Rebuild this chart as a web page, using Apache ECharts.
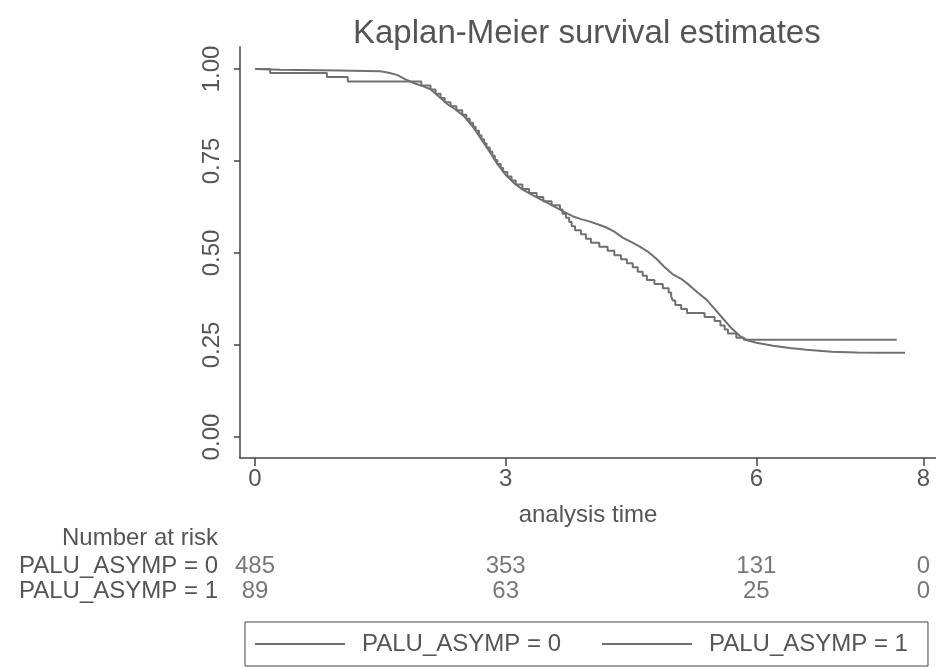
<!DOCTYPE html>
<html><head><meta charset="utf-8">
<script src="https://cdn.jsdelivr.net/npm/echarts@6/dist/echarts.min.js"></script>
<style>html,body{margin:0;padding:0;background:#fff}#c{width:936px;height:668px}</style>
</head><body><div id="c"></div>
<script>
// ---- data ----
const groupNames = ['PALU_ASYMP = 0', 'PALU_ASYMP = 1'];
// KM estimate, group 0 (time, survival)
const km0 = [
 [0,1.0],[0.3,0.998],[1.0,0.996],[1.5,0.994],[1.6,0.99],[1.7,0.984],[1.8,0.972],[1.9,0.962],
 [2.0,0.954],[2.1,0.945],[2.2,0.925],[2.3,0.905],[2.4,0.89],[2.5,0.872],[2.6,0.845],[2.7,0.812],
 [2.8,0.778],[2.9,0.742],[3.0,0.712],[3.1,0.69],[3.2,0.673],[3.3,0.66],[3.4,0.648],[3.5,0.636],
 [3.6,0.624],[3.7,0.612],[3.8,0.6],[3.9,0.592],[4.0,0.586],[4.1,0.578],[4.2,0.57],[4.3,0.558],
 [4.4,0.542],[4.5,0.53],[4.6,0.518],[4.7,0.504],[4.8,0.485],[4.9,0.462],[5.0,0.442],[5.1,0.43],
 [5.2,0.412],[5.3,0.392],[5.4,0.374],[5.5,0.348],[5.6,0.322],[5.7,0.296],[5.8,0.275],[5.9,0.262],
 [6.0,0.256],[6.2,0.248],[6.4,0.242],[6.6,0.237],[6.9,0.232],[7.2,0.23],[7.5,0.229],[7.78,0.229]
];
// KM estimate, group 1 (time, survival)
const km1 = [
 [0,1.0],[0.18,0.989],[0.86,0.978],[1.11,0.966],[1.99,0.955],[2.1,0.944],[2.16,0.933],[2.22,0.921],
 [2.27,0.91],[2.34,0.899],[2.41,0.888],[2.48,0.876],[2.53,0.865],[2.57,0.854],[2.61,0.843],[2.64,0.832],
 [2.68,0.82],[2.71,0.809],[2.74,0.798],[2.77,0.787],[2.81,0.776],[2.84,0.764],[2.87,0.753],[2.9,0.742],
 [2.94,0.731],[2.97,0.72],[3.02,0.708],[3.07,0.697],[3.12,0.686],[3.2,0.674],[3.28,0.663],[3.37,0.652],
 [3.45,0.641],[3.55,0.63],[3.65,0.618],[3.68,0.607],[3.72,0.596],[3.76,0.584],[3.79,0.573],[3.83,0.562],
 [3.9,0.551],[3.96,0.539],[4.02,0.528],[4.12,0.517],[4.22,0.506],[4.3,0.494],[4.38,0.483],[4.45,0.472],
 [4.52,0.461],[4.58,0.449],[4.64,0.438],[4.69,0.427],[4.78,0.416],[4.88,0.404],[4.95,0.393],[4.98,0.382],
 [5.0,0.371],[5.03,0.359],[5.1,0.348],[5.17,0.337],[5.38,0.326],[5.5,0.315],[5.57,0.303],[5.62,0.292],
 [5.66,0.281],[5.76,0.27],[5.85,0.264],[7.68,0.264]
];
const xTicks = [0, 3, 6, 8];
const yTicks = [0, 0.25, 0.5, 0.75, 1];
const riskTimes = [0, 3, 6, 8];
const risk0 = [485, 353, 131, 0];
const risk1 = [89, 63, 25, 0];

// ---- chart ----
const txt = '#555';
const lineCol = '#707070';
const font = 'Liberation Sans, Arial, sans-serif';
const chart = echarts.init(document.getElementById('c'), null, {renderer: 'canvas'});
const riskData = [];
riskTimes.forEach((t, i) => {
  riskData.push([t, groupNames[0], risk0[i]]);
  riskData.push([t, groupNames[1], risk1[i]]);
});
chart.setOption({
  animation: false,
  backgroundColor: '#fff',
  textStyle: {fontFamily: font},
  title: {
    text: 'Kaplan-Meier survival estimates',
    left: 348, top: 12,
    textStyle: {fontSize: 33, fontWeight: 'normal', color: txt, fontFamily: font}
  },
  graphic: [{
    type: 'text', right: 936 - 218, top: 526,
    style: {text: 'Number at risk', fontSize: 24, fill: txt, font: '24px ' + font, textAlign: 'right'}
  }],
  legend: {
    left: 245, top: 622,
    data: groupNames,
    icon: 'rect',
    itemWidth: 90, itemHeight: 2, itemGap: 41,
    borderColor: '#444', borderWidth: 1,
    padding: [10, 20, 10, 10],
    textStyle: {fontSize: 24, color: txt, fontFamily: font, padding: [0, 0, 0, 12], lineHeight: 24}
  },
  grid: [
    {left: 240, right: 0, top: 47, bottom: 210},
    {left: 240, right: 0, top: 554, height: 50}
  ],
  xAxis: [{
    type: 'value', gridIndex: 0, min: -0.18, max: 8.15,
    splitLine: {show: false},
    axisLine: {onZero: false, lineStyle: {color: '#444', width: 1.5}},
    axisTick: {customValues: xTicks, length: 8, lineStyle: {color: '#444', width: 1.5}},
    axisLabel: {customValues: xTicks, fontSize: 24, color: txt, margin: 9, fontFamily: font},
    name: 'analysis time', nameLocation: 'middle', nameGap: 45,
    nameTextStyle: {fontSize: 24, color: txt, fontFamily: font}
  }, {
    type: 'value', gridIndex: 1, min: -0.18, max: 8.15, show: false
  }],
  yAxis: [{
    type: 'value', gridIndex: 0, min: -0.057, max: 1.0598,
    splitLine: {show: false},
    axisLine: {show: true, onZero: false, lineStyle: {color: '#444', width: 1.5}},
    axisTick: {show: true, customValues: yTicks, length: 6, lineStyle: {color: '#444', width: 1.5}},
    axisLabel: {customValues: yTicks, rotate: 90, fontSize: 24, color: txt, margin: 16, fontFamily: font,
      formatter: v => v.toFixed(2)}
  }, {
    type: 'category', gridIndex: 1, data: groupNames, inverse: true,
    axisLine: {show: false}, axisTick: {show: false}, splitLine: {show: false},
    axisLabel: {interval: 0, hideOverlap: false, fontSize: 24, color: txt, margin: 22, fontFamily: font}
  }],
  series: [{
    name: groupNames[0], type: 'line', data: km0, symbol: 'none',
    lineStyle: {color: lineCol, width: 2}, itemStyle: {color: lineCol}
  }, {
    name: groupNames[1], type: 'line', step: 'end', data: km1, symbol: 'none',
    lineStyle: {color: lineCol, width: 2}, itemStyle: {color: lineCol}
  }, {
    type: 'scatter', xAxisIndex: 1, yAxisIndex: 1, data: riskData, symbolSize: 0,
    label: {show: true, position: 'inside', formatter: p => String(p.value[2]),
      fontSize: 24, color: txt, fontFamily: font}
  }]
});
</script></body></html>
